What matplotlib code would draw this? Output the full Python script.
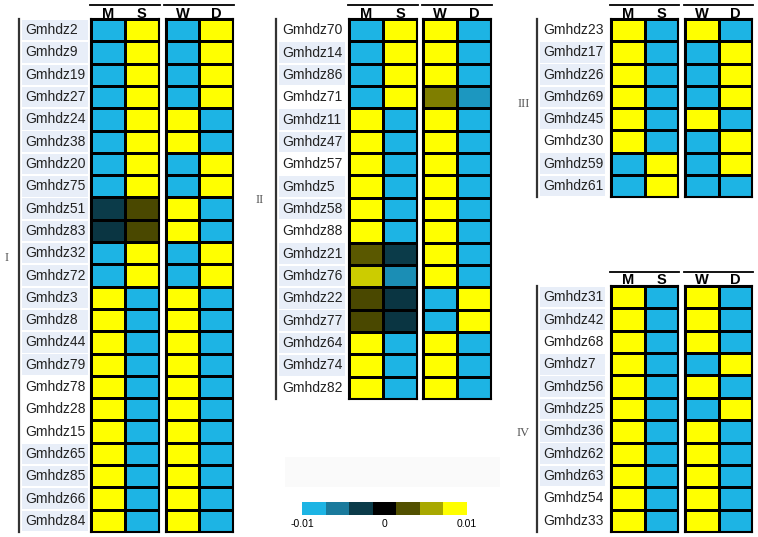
import matplotlib
matplotlib.use("Agg")
import matplotlib.pyplot as plt
import numpy as np
from matplotlib.colors import LinearSegmentedColormap, ListedColormap, Normalize
from matplotlib.transforms import blended_transform_factory, offset_copy
from matplotlib.patches import Rectangle

# expression levels: Y = high (0.01), B = low (-0.01)
Y = 0.01
B = -0.01

g1_genes = ["Gmhdz2", "Gmhdz9", "Gmhdz19", "Gmhdz27", "Gmhdz24", "Gmhdz38", "Gmhdz20",
            "Gmhdz75", "Gmhdz51", "Gmhdz83", "Gmhdz32", "Gmhdz72", "Gmhdz3", "Gmhdz8",
            "Gmhdz44", "Gmhdz79", "Gmhdz78", "Gmhdz28", "Gmhdz15", "Gmhdz65", "Gmhdz85",
            "Gmhdz66", "Gmhdz84"]
g1_ms = [[B, Y], [B, Y], [B, Y], [B, Y], [B, Y], [B, Y], [B, Y], [B, Y],
         [-0.0033, 0.003], [-0.003, 0.003], [B, Y], [B, Y],
         [Y, B], [Y, B], [Y, B], [Y, B], [Y, B], [Y, B], [Y, B], [Y, B], [Y, B], [Y, B], [Y, B]]
g1_wd = [[B, Y], [B, Y], [B, Y], [B, Y], [Y, B], [Y, B], [B, Y], [B, Y],
         [Y, B], [Y, B], [B, Y], [B, Y],
         [Y, B], [Y, B], [Y, B], [Y, B], [Y, B], [Y, B], [Y, B], [Y, B], [Y, B], [Y, B], [Y, B]]
g1_shade = [1, 1, 1, 1, 1, 1, 1, 1, 1, 1, 1, 1, 1, 1, 1, 1, 0, 0, 0, 1, 1, 1, 1]

g2_genes = ["Gmhdz70", "Gmhdz14", "Gmhdz86", "Gmhdz71", "Gmhdz11", "Gmhdz47", "Gmhdz57",
            "Gmhdz5", "Gmhdz58", "Gmhdz88", "Gmhdz21", "Gmhdz76", "Gmhdz22", "Gmhdz77",
            "Gmhdz64", "Gmhdz74", "Gmhdz82"]
g2_ms = [[B, Y], [B, Y], [B, Y], [B, Y], [Y, B], [Y, B], [Y, B], [Y, B], [Y, B], [Y, B],
         [0.0036, -0.0033], [0.008, -0.0078], [0.003, -0.003], [0.003, -0.003],
         [Y, B], [Y, B], [Y, B]]
g2_wd = [[Y, B], [Y, B], [Y, B], [0.005, -0.0083], [Y, B], [Y, B], [Y, B], [Y, B], [Y, B],
         [Y, B], [Y, B], [Y, B], [B, Y], [B, Y], [Y, B], [Y, B], [Y, B]]
g2_shade = [0, 1, 1, 0, 1, 1, 0, 1, 1, 0, 1, 1, 1, 1, 1, 1, 0]

g3_genes = ["Gmhdz23", "Gmhdz17", "Gmhdz26", "Gmhdz69", "Gmhdz45", "Gmhdz30", "Gmhdz59",
            "Gmhdz61"]
g3_ms = [[Y, B], [Y, B], [Y, B], [Y, B], [Y, B], [Y, B], [B, Y], [B, Y]]
g3_wd = [[Y, B], [B, Y], [B, Y], [B, Y], [Y, B], [B, Y], [B, Y], [B, B]]
g3_shade = [0, 1, 1, 1, 1, 0, 1, 1]

g4_genes = ["Gmhdz31", "Gmhdz42", "Gmhdz68", "Gmhdz7", "Gmhdz56", "Gmhdz25", "Gmhdz36",
            "Gmhdz62", "Gmhdz63", "Gmhdz54", "Gmhdz33"]
g4_ms = [[Y, B]] * 11
g4_wd = [[Y, B], [Y, B], [Y, B], [B, Y], [Y, B], [B, Y], [Y, B], [Y, B], [Y, B], [Y, B], [Y, B]]
g4_shade = [1, 1, 0, 1, 1, 1, 1, 1, 1, 0, 0]

ms_cols = ["M", "S"]
wd_cols = ["W", "D"]

cb_colors = ["#1db4e4", "#1a7a9c", "#0b3b49", "#000000", "#525000", "#a8a800", "#ffff00"]
cb_ticks = [-0.01, 0, 0.01]
cb_ticklabels = ["-0.01", "0", "0.01"]

W, H = 758, 537
fig = plt.figure(figsize=(W / 100, H / 100), dpi=100)
cmap = LinearSegmentedColormap.from_list("hz", cb_colors)
norm = Normalize(-0.01, 0.01)


def px_axes(x0, y0, x1, y1):
    return fig.add_axes([x0 / W, 1 - y1 / H, (x1 - x0) / W, (y1 - y0) / H])


def heat_block(x0, x1, top, bottom, vals, cols):
    vals = np.array(vals)
    n = len(vals)
    ax = px_axes(x0, top, x1, bottom)
    ax.pcolormesh(np.arange(3), np.arange(n + 1), vals, cmap=cmap, norm=norm,
                  edgecolors="black", linewidth=1.0)
    ax.set_xlim(0, 2)
    ax.set_ylim(n, 0)
    ax.set_xticks([])
    ax.set_yticks([])
    for s in ax.spines.values():
        s.set_linewidth(1.5)
    tr = blended_transform_factory(ax.transData, ax.transAxes)
    for j, c in enumerate(cols):
        ax.text(j + 0.5, 1, c, transform=offset_copy(tr, fig=fig, y=1.5, units="dots"),
                ha="center", va="baseline", fontsize=10.5, fontweight="bold",
                family="Liberation Sans")
    ax.plot([-0.03, 2.03], [1, 1], color="black", lw=1.3, clip_on=False,
            transform=offset_copy(tr, fig=fig, y=14, units="dots"))
    return ax


def label_block(x0, x1, top, bottom, genes, shade, sx):
    n = len(genes)
    ax = px_axes(x0, top, x1, bottom)
    ax.set_xlim(0, 1)
    ax.set_ylim(n, 0)
    y = np.arange(n) + 0.5
    sh = np.array(shade, dtype=bool)
    ax.barh(y[sh], 1 - sx, left=sx, height=0.92, color="#e8eef8", lw=0)
    for yi, g in zip(y, genes):
        ax.text(sx + 0.05, yi, g, ha="left", va="center", fontsize=10,
                family="Liberation Sans", color="#222222")
    ax.set_xticks([])
    ax.set_yticks([])
    for k in ["top", "right", "bottom"]:
        ax.spines[k].set_visible(False)
    ax.spines["left"].set_linewidth(1.6)
    ax.spines["left"].set_color("#333333")


groups = [
    (g1_genes, g1_ms, g1_wd, g1_shade, 19, 532, (91, 158.7), (165.5, 233.3), (19, 88), "I", (7, 258)),
    (g2_genes, g2_ms, g2_wd, g2_shade, 19, 399, (349, 417), (423, 491), (276, 345), "II", (260, 200)),
    (g3_genes, g3_ms, g3_wd, g3_shade, 19, 197, (611, 678), (685, 752), (537, 605), "III", (524, 104)),
    (g4_genes, g4_ms, g4_wd, g4_shade, 286, 532, (611, 678), (685, 752), (537, 605), "IV", (523, 433)),
]

# faint box behind legend area
fig.add_artist(Rectangle((285 / W, 1 - 487 / H), 215 / W, 30 / H, transform=fig.transFigure,
                         color="#fafafa", lw=0))

for genes, ms, wd, shade, top, bottom, msx, wdx, lx, roman, rpos in groups:
    label_block(lx[0], lx[1], top, bottom, genes, shade, 0.045)
    heat_block(msx[0], msx[1], top, bottom, ms, ms_cols)
    heat_block(wdx[0], wdx[1], top, bottom, wd, wd_cols)
    fig.text(rpos[0] / W, 1 - rpos[1] / H, roman, ha="center", va="center", fontsize=9,
             family="Liberation Serif", color="#555555")

# colour key
cax = px_axes(302, 502, 467, 515)
cax.imshow(np.linspace(-0.01, 0.01, 7)[None, :], extent=[-0.01, 0.01, 0, 1], aspect="auto",
           cmap=ListedColormap(cb_colors), norm=norm)
cax.set_yticks([])
cax.set_xticks(cb_ticks)
cax.set_xticklabels(cb_ticklabels, fontsize=7.5, family="Liberation Sans")
cax.tick_params(axis="x", length=0, pad=3)
for s in cax.spines.values():
    s.set_visible(False)

fig.savefig("out.png", dpi=100)
